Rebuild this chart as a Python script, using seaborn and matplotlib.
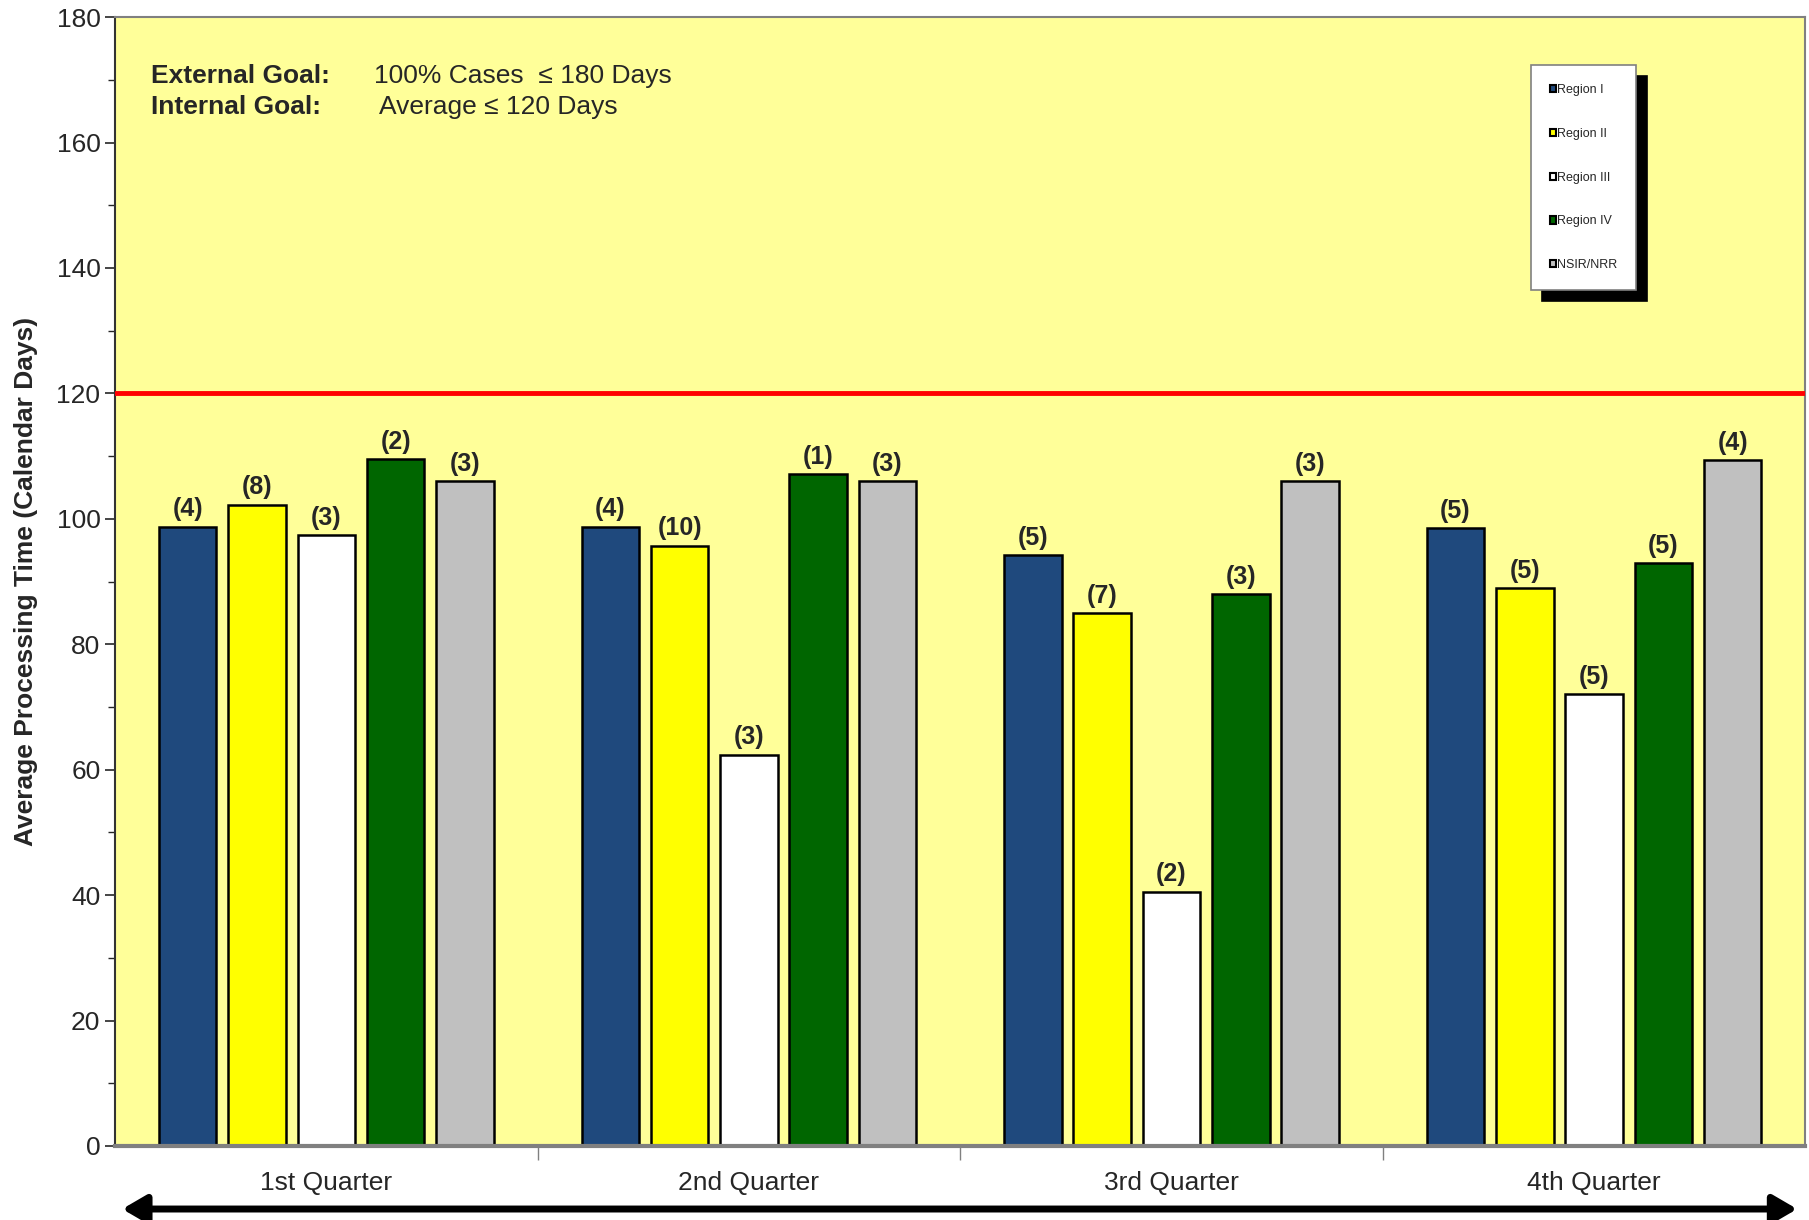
import matplotlib
matplotlib.use("Agg")
import matplotlib.pyplot as plt
import seaborn as sns
import pandas as pd
import numpy as np

quarters = ["1st Quarter", "2nd Quarter", "3rd Quarter", "4th Quarter"]
regions = ["Region I", "Region II", "Region III", "Region IV", "NSIR/NRR"]

region_1 = [98.7, 98.7, 94.2, 98.5]
region_2 = [102.2, 95.7, 84.9, 88.9]
region_3 = [97.4, 62.4, 40.5, 72.0]
region_4 = [109.5, 107.1, 88.0, 92.9]
nsir_nrr = [106.0, 106.0, 106.0, 109.3]

counts_1 = [4, 4, 5, 5]
counts_2 = [8, 10, 7, 5]
counts_3 = [3, 3, 2, 5]
counts_4 = [2, 1, 3, 5]
counts_n = [3, 3, 3, 4]

internal_goal = 120
colors = ["#1F497D", "#FFFF00", "#FFFFFF", "#006600", "#C0C0C0"]

series = [region_1, region_2, region_3, region_4, nsir_nrr]
counts = [counts_1, counts_2, counts_3, counts_4, counts_n]

rows = []
for reg, vals in zip(regions, series):
    for q, v in zip(quarters, vals):
        rows.append({"Quarter": q, "Region": reg, "Days": v})
df = pd.DataFrame(rows)

sns.set_style("ticks")
plt.rcParams["font.family"] = ["Liberation Sans", "DejaVu Sans"]

fig = plt.figure(figsize=(18.09, 12.2), dpi=100)
ax = fig.add_axes([0.0636, 0.0607, 0.9344, 0.9253])
ax.set_facecolor("#FFFF99")

sns.barplot(data=df, x="Quarter", y="Days", hue="Region", order=quarters,
            hue_order=regions, palette=colors, width=0.82, gap=0.17,
            edgecolor="black", linewidth=1.8, saturation=1, ax=ax, legend=True)

for cont, cnt in zip(ax.containers, counts):
    ax.bar_label(cont, labels=[f"({c})" for c in cnt], padding=4,
                 fontsize=18, fontweight="bold")

ax.axhline(internal_goal, color="#FF0000", linewidth=3.5, zorder=3)

ax.set_ylim(0, 180)
ax.set_xlim(-0.5, 3.5)
ax.set_yticks(np.arange(0, 181, 20))
ax.set_yticks(np.arange(0, 181, 10), minor=True)
ax.tick_params(axis="y", labelsize=19, length=7, width=1.2, direction="out")
ax.tick_params(axis="y", which="minor", length=5, width=1)
ax.set_xticks([0, 1, 2, 3])
ax.set_xticklabels(quarters)
ax.tick_params(axis="x", labelsize=19, length=0, pad=18)
ax.set_xticks([0.5, 1.5, 2.5], minor=True)
ax.tick_params(axis="x", which="minor", length=10, width=1, color="#808080")
ax.set_xlabel("")
ax.set_ylabel("Average Processing Time (Calendar Days)", fontsize=19,
              fontweight="bold", labelpad=13)

for s in ["top", "right"]:
    ax.spines[s].set_color("#808080")
    ax.spines[s].set_linewidth(1.5)
ax.spines["left"].set_color("#333333")
ax.spines["left"].set_linewidth(1.5)
ax.spines["bottom"].set_color("#808080")
ax.spines["bottom"].set_linewidth(3)

ax.text(0.021, 0.958, "External Goal:", transform=ax.transAxes, fontsize=19,
        fontweight="bold", va="top")
ax.text(0.153, 0.958, "100% Cases  \u2264 180 Days", transform=ax.transAxes,
        fontsize=19, va="top")
ax.text(0.021, 0.931, "Internal Goal:", transform=ax.transAxes, fontsize=19,
        fontweight="bold", va="top")
ax.text(0.156, 0.931, "Average \u2264 120 Days", transform=ax.transAxes,
        fontsize=19, va="top")

leg = ax.legend(loc="upper left", bbox_to_anchor=(0.834, 0.963), fontsize=9,
                frameon=True, fancybox=False, edgecolor="#808080",
                framealpha=1, handlelength=0.5, handleheight=0.5,
                handletextpad=0.1, labelspacing=2.55, borderpad=1.5,
                shadow={"color": "black", "alpha": 1, "ox": 8, "oy": -8},
                title=None)
leg.get_frame().set_linewidth(1.2)
for h in leg.legend_handles:
    h.set_edgecolor("black")
    h.set_linewidth(1.5)

fig.patches.append(matplotlib.patches.FancyArrowPatch(
    (0.066, 0.009), (0.995, 0.009), transform=fig.transFigure,
    arrowstyle="<|-|>,head_length=1.2,head_width=0.7", color="black",
    linewidth=5, mutation_scale=12))

fig.savefig("out.png", dpi=100)
